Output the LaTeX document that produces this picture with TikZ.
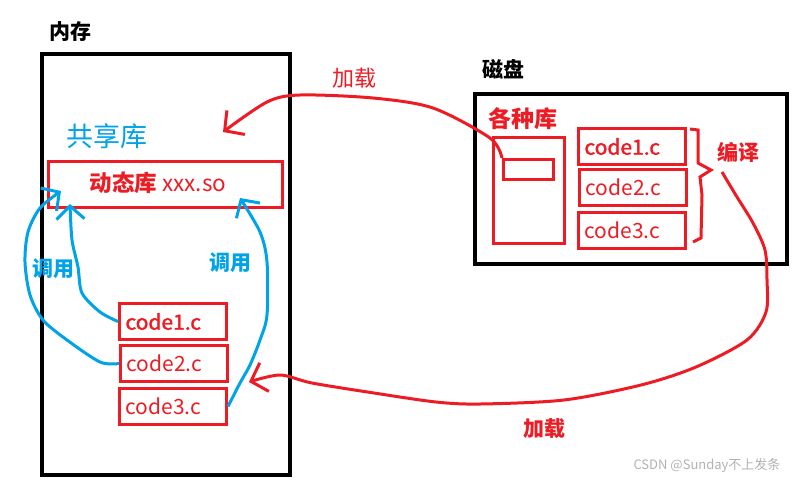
\documentclass[tikz,border=0pt]{standalone}
\usepackage{fontspec}
\setmainfont{Noto Sans CJK SC}
\newfontfamily\semibold[FakeBold=1.6]{Noto Sans CJK SC}
\usetikzlibrary{arrows.meta}
\definecolor{pred}{RGB}{237,28,36}
\definecolor{pblue}{RGB}{0,162,232}

\begin{document}
\begin{tikzpicture}[x=1pt, y=-1pt,
    area/.style={draw=black, line width=3.5pt, anchor=north west, inner sep=0pt},
    frame/.style={draw=pred, line width=3pt, anchor=north west, inner sep=0pt},
    file/.style={draw=pred, line width=3pt, anchor=north west, text=pred,
        font=\fontsize{21}{24}\selectfont, text width=95pt, align=left,
        inner xsep=6pt, inner ysep=0pt, minimum height=36pt},
    title/.style={font=\fontsize{21}{24}\selectfont\bfseries},
    load/.style={draw=pred, line width=3pt, -{Straight Barb[length=14pt, width=30pt]}},
    call/.style={draw=pblue, line width=3pt, -{Straight Barb[length=13pt, width=28pt]}}
]
    \useasboundingbox (0,0) rectangle (794,480);

    \node[area, minimum width=248pt, minimum height=421pt] (mem) at (40,52) {};
    \node[area, minimum width=312pt, minimum height=170pt] (disk) at (473,92) {};
    \node[title] (memlabel) at (70,32) {内存};
    \node[title] (disklabel) at (503,69) {磁盘};

    \node[text=pblue, font=\fontsize{27}{30}\selectfont] (shared) at (107,136) {共享库};
    \node[frame, minimum width=234pt, minimum height=46pt] (dyn) at (47,160) {};
    \node[text=pred, font=\fontsize{22.5}{26}\selectfont] (dyntext) at (158,183) {\textbf{动态库} xxx.so};
    \node[file, font=\fontsize{21}{24}\semibold] (mc1) at (118,302) {code1.c};
    \node[file] (mc2) at (119,344) {code2.c};
    \node[file] (mc3) at (118,387) {code3.c};

    \node[title, text=pred, font=\fontsize{23}{26}\selectfont\bfseries] (libs) at (523,119) {各种库};
    \node[frame, minimum width=71pt, minimum height=106pt] (libbox) at (492,136) {};
    \node[frame, minimum width=50pt, minimum height=20pt] (slot) at (502,158) {};
    \node[file, font=\fontsize{21}{24}\semibold] (dc1) at (577,127) {code1.c};
    \node[file] (dc2) at (578,168) {code2.c};
    \node[file] (dc3) at (577,211) {code3.c};
    \node[title, text=pred] (compile) at (738,152) {编译};
    \draw[draw=pred, line width=3pt] (690,129) -- (698,130) -- (698,163) -- (711,170)
        -- (700,177) -- (702,195) -- (701,238) -- (693,242);

    \node[text=pred, font=\fontsize{22}{24}\selectfont] (loadtop) at (354,78) {加载};
    \node[title, text=pred] (loadbot) at (544,429) {加载};
    \node[title, text=pblue] (callleft) at (53,269) {调用};
    \node[title, text=pblue] (callright) at (230,263) {调用};
    \node[text=black!30, font=\fontsize{13}{15}\selectfont] (mark) at (707,466) {CSDN @Sunday不上发条};

    \coordinate (toptip) at (223,132);
    \coordinate (botstart) at (722,172);
    \coordinate (bottip) at (249,382);
    \coordinate (tip1) at (70,204);
    \coordinate (tip2) at (61,191);
    \coordinate (tip3) at (240,198);

    \draw[load] plot[smooth, tension=0.5] coordinates {(slot.north west) (490,138) (433,108)
        (373,98) (300,95) (267,102) (toptip)};
    \draw[load] plot[smooth, tension=0.5] coordinates {(botstart) (737,197) (753,223)
        (765,250) (767,280) (766,312) (747,340) (696,367) (641,385) (564,400) (480,404)
        (436,402) (374,393) (312,383) (280,375) (bottip)};

    \draw[call] plot[smooth, tension=0.5] coordinates {(mc1.west) (100,312) (82,293)
        (78,267) (72,240) (tip1)};
    \draw[call] plot[smooth, tension=0.5] coordinates {(mc2.west) (100,362) (67,340)
        (43,320) (30,295) (25,262) (28,232) (40,208) (tip2)};
    \draw[call] plot[smooth, tension=0.5] coordinates {(mc3.east) (240,383) (250,365)
        (260,340) (267,315) (267,262) (260,232) (tip3)};
\end{tikzpicture}
\end{document}
